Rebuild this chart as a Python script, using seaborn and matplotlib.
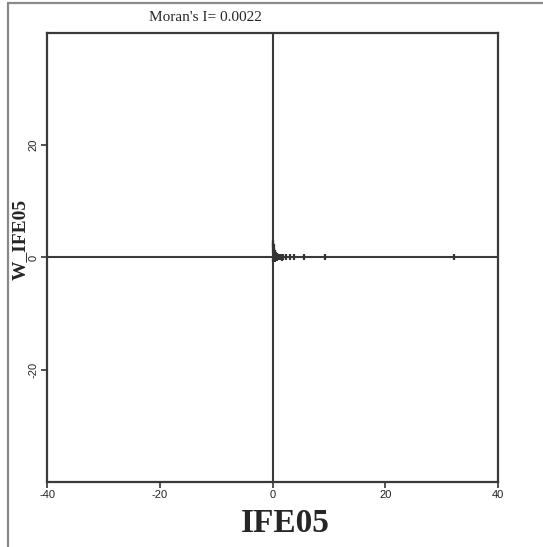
import matplotlib
matplotlib.use("Agg")
import matplotlib.pyplot as plt
import seaborn as sns
import pandas as pd
from matplotlib.lines import Line2D

# Moran scatter values
ife05 = [0.0, 0.1, 0.2, 0.1, 0.3, 0.2, 0.4, 0.5, 0.3, 0.6, 0.7, 0.8, 0.9, 1.0,
         1.2, 1.4, 1.6, 1.8, 2.3, 3.1, 3.8, 5.5, 9.2, 32.1, 0.1, 0.4, 0.8, 0.2]
w_ife05 = [2.6, 2.2, 1.8, 1.4, 1.2, 0.9, 0.8, 0.6, 0.4, 0.5, 0.3, 0.2, 0.1, 0.1,
           0.0, 0.0, -0.1, 0.0, 0.0, 0.0, 0.0, 0.0, 0.0, 0.0, -0.3, -0.2, -0.1, 0.0]
x_ticks = [-40, -20, 0, 20, 40]
y_ticks = [-20, 0, 20]
moran_i = 0.0022

df = pd.DataFrame({"IFE05": ife05, "W_IFE05": w_ife05})

sns.set_style("white")
plt.rcParams["axes.unicode_minus"] = False
fig = plt.figure(figsize=(5.43, 5.47), dpi=100)
ax = fig.add_axes([0.0866, 0.1188, 0.831, 0.821])

ax.axhline(0, color="#3a3a3a", lw=1.5, zorder=1)
ax.axvline(0, color="#3a3a3a", lw=1.5, zorder=1)
sns.scatterplot(data=df, x="IFE05", y="W_IFE05", marker="|", s=20,
                color="#333333", linewidth=1.6, ax=ax, zorder=3)

ax.set_xlim(-40, 40)
ax.set_ylim(-40, 40)
ax.set_xticks(x_ticks)
ax.set_yticks(y_ticks)
ax.tick_params(axis="both", direction="out", length=4, width=1.2,
               labelsize=8, color="#333333", labelcolor="#222222",
               bottom=True, left=True, pad=2)
for lab in ax.get_xticklabels() + ax.get_yticklabels():
    lab.set_family("Liberation Sans")
for lab in ax.get_yticklabels():
    lab.set_rotation(90)
    lab.set_va("center")
for sp in ax.spines.values():
    sp.set_color("#3a3a3a")
    sp.set_linewidth(1.6)

ax.set_xlabel("IFE05", fontsize=24, fontweight="bold",
              family="Liberation Serif")
ax.xaxis.set_label_coords(0.528, -0.058)
ax.set_ylabel("W_IFE05", fontsize=14, fontweight="bold",
              family="Liberation Serif")
ax.yaxis.set_label_coords(-0.041, 0.541)

fig.text(0.378, 0.968, f"Moran's I= {moran_i}", ha="center", va="center",
         fontsize=11, family="Liberation Serif")

# outer gray frame (top and left edges)
fig.add_artist(Line2D([8 / 543, 1], [1 - 3 / 547, 1 - 3 / 547],
                      transform=fig.transFigure, color="#8a8a8a", lw=1.6))
fig.add_artist(Line2D([8 / 543, 8 / 543], [0, 1 - 3 / 547],
                      transform=fig.transFigure, color="#8a8a8a", lw=1.6))

fig.savefig("out.png", dpi=100)
